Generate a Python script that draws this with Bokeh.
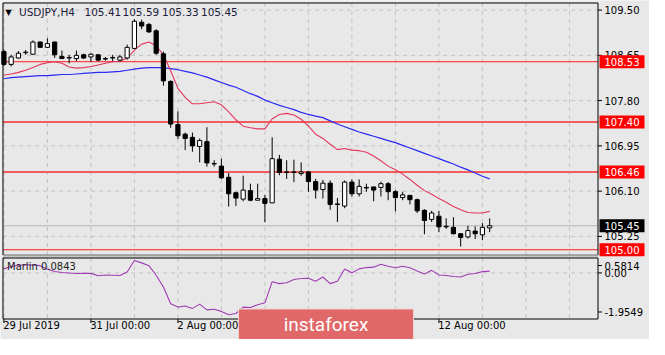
from bokeh.plotting import figure
from bokeh.models import Range1d, ColumnDataSource
from bokeh.core.properties import value
from bokeh.embed import file_html
from bokeh.resources import INLINE

# ---------------- data ----------------
symbol = "USDJPY,H4"
opens = [108.72, 108.48, 108.60, 108.70, 108.67, 108.90, 108.80, 108.90, 108.63, 108.60,
         108.59, 108.66, 108.62, 108.66, 108.58, 108.60, 108.56, 108.60, 108.78, 109.27,
         109.23, 109.11, 108.68, 108.16, 107.35, 107.17, 107.11, 106.94, 107.03, 106.61,
         106.57, 106.36, 106.07, 105.95, 106.11, 105.93, 105.96, 105.88, 106.70, 106.45,
         106.46, 106.43, 106.46, 106.28, 106.13, 106.25, 105.86, 105.82, 106.27, 106.05,
         106.17, 106.18, 106.17, 106.24, 106.09, 105.98, 106.02, 105.94, 105.74, 105.57,
         105.63, 105.44, 105.42, 105.30, 105.24, 105.35, 105.28, 105.41]
highs = [108.76, 108.66, 108.73, 108.75, 108.93, 108.91, 108.97, 108.91, 108.74, 108.66,
         108.74, 108.68, 108.69, 108.67, 108.62, 108.66, 108.66, 108.85, 109.33, 109.32,
         109.26, 109.14, 108.72, 108.18, 107.60, 107.20, 107.20, 107.09, 107.30, 106.68,
         106.71, 106.44, 106.09, 106.39, 106.24, 106.24, 106.03, 107.11, 106.78, 106.68,
         106.69, 106.64, 106.48, 106.33, 106.31, 106.30, 105.97, 106.30, 106.32, 106.32,
         106.24, 106.18, 106.28, 106.27, 106.12, 106.09, 106.03, 105.96, 105.76, 105.73,
         105.73, 105.59, 105.61, 105.31, 105.45, 105.44, 105.50, 105.59]
lows = [108.45, 108.44, 108.59, 108.66, 108.66, 108.79, 108.79, 108.60, 108.58, 108.50,
        108.54, 108.58, 108.53, 108.55, 108.55, 108.54, 108.53, 108.57, 108.77, 109.14,
        109.07, 108.66, 108.08, 107.29, 107.08, 106.87, 106.84, 106.64, 106.56, 106.56,
        106.33, 105.81, 105.82, 105.91, 105.91, 105.93, 105.52, 105.88, 106.40, 106.33,
        106.27, 106.39, 106.09, 105.96, 105.96, 105.75, 105.52, 105.78, 106.00, 106.00,
        106.09, 105.91, 106.00, 105.93, 105.72, 105.93, 105.85, 105.69, 105.29, 105.52,
        105.33, 105.39, 105.29, 105.06, 105.21, 105.20, 105.18, 105.33]
closes = [108.48, 108.62, 108.69, 108.71, 108.90, 108.80, 108.87, 108.66, 108.59, 108.61,
          108.65, 108.60, 108.67, 108.56, 108.59, 108.61, 108.62, 108.80, 109.29, 109.20,
          109.09, 108.69, 108.17, 107.36, 107.14, 107.09, 106.95, 107.05, 106.63, 106.62,
          106.35, 106.05, 105.97, 106.12, 105.93, 105.96, 105.87, 106.71, 106.45, 106.46,
          106.45, 106.46, 106.28, 106.12, 106.25, 105.85, 105.85, 106.27, 106.05, 106.19,
          106.16, 106.12, 106.24, 106.09, 105.98, 106.03, 105.94, 105.73, 105.55, 105.69,
          105.43, 105.43, 105.30, 105.23, 105.36, 105.30, 105.42, 105.45]
ma_fast = [108.28, 108.30, 108.33, 108.37, 108.42, 108.48, 108.51, 108.53, 108.50, 108.43,
           108.41, 108.42, 108.44, 108.47, 108.50, 108.53, 108.54, 108.60, 108.75, 108.86,
           108.90, 108.83, 108.66, 108.36, 108.03, 107.86, 107.74, 107.74, 107.76, 107.78,
           107.72, 107.59, 107.44, 107.32, 107.29, 107.27, 107.27, 107.46, 107.54, 107.56,
           107.53, 107.45, 107.32, 107.17, 107.09, 106.98, 106.88, 106.90, 106.87, 106.86,
           106.83, 106.76, 106.67, 106.57, 106.50, 106.42, 106.32, 106.21, 106.11, 106.04,
           105.96, 105.89, 105.81, 105.75, 105.70, 105.69, 105.69, 105.72]
ma_slow = [108.21, 108.23, 108.24, 108.25, 108.26, 108.27, 108.27, 108.28, 108.29, 108.29,
           108.30, 108.31, 108.32, 108.33, 108.33, 108.34, 108.35, 108.37, 108.39, 108.41,
           108.42, 108.42, 108.42, 108.40, 108.38, 108.35, 108.32, 108.28, 108.24, 108.19,
           108.14, 108.09, 108.05, 107.99, 107.93, 107.88, 107.81, 107.76, 107.71, 107.67,
           107.63, 107.58, 107.54, 107.51, 107.48, 107.42, 107.36, 107.31, 107.26, 107.21,
           107.17, 107.13, 107.09, 107.05, 107.01, 106.96, 106.91, 106.86, 106.81, 106.76,
           106.71, 106.66, 106.61, 106.55, 106.50, 106.44, 106.38, 106.33]
marlin = [0.19, 0.30, 0.36, 0.38, 0.37, 0.34, 0.17, 0.07, 0.02, 0.00,
          -0.03, -0.02, -0.02, -0.13, -0.10, -0.11, -0.12, 0.04, 0.5814, 0.47,
          0.34, -0.11, -0.66, -1.44, -1.60, -1.55, -1.66, -1.46, -1.73, -1.70,
          -1.80, -1.9549, -1.90, -1.60, -1.62, -1.49, -1.40, -0.41, -0.50, -0.46,
          -0.31, -0.26, -0.25, -0.39, -0.19, -0.50, -0.39, 0.18, 0.01, 0.19,
          0.25, 0.27, 0.41, 0.31, 0.24, 0.31, 0.24, 0.09, -0.05, 0.12,
          -0.10, -0.12, -0.17, -0.19, -0.06, -0.03, 0.06, 0.0843]
levels = [108.53, 107.40, 106.46, 105.00]
price_ticks = [109.50, 108.65, 107.80, 106.95, 106.10, 105.25]
marlin_ticks = [0.5814, 0.0, -1.9549]
marlin_tick_labels = ["0.5814", "0.00", "-1.9549"]
date_ticks = [0, 12, 24, 36, 48, 60]
date_labels = ["29 Jul 2019", "31 Jul 00:00", "2 Aug 00:00", "6 Aug 00:00", "8 Aug 00:00", "12 Aug 00:00"]
grid_step = 6
indicator_name = "Marlin"
logo_text = "instaforex"

# ---------------- layout (canvas pixels) ----------------
W, H = 649, 339
BAR_PX, BAR0_PX = 7.25, 3.42          # bar spacing and position of bar 0
PRICE_PX, PRICE_TOP = 53.26, 109.6796  # px per price unit, price at canvas top
IND_PX, IND_REF_V, IND_REF_PX = 1 / 0.046795, 0.5814, 260.0
L, R = 2.5, 597.5
MAIN_T, MAIN_B = 2.5, 254.5
SEP_T, SEP_B = 255.0, 257.0
IND_T, IND_B = 257.5, 318.5
TITLE_X = [18.5, 84.0, 122.0, 161.5, 200.5]

FONT = "DejaVu Sans"
BG = "#e8e8e8"
GRID = "#c2c2c2"

X_START = -BAR0_PX / BAR_PX
X_END = (W - BAR0_PX) / BAR_PX
Y_START = PRICE_TOP - H / PRICE_PX
IND_START = IND_REF_V - (H - IND_REF_PX) / IND_PX
IND_END = IND_REF_V + IND_REF_PX / IND_PX


def gx(px):
    return (px - BAR0_PX) / BAR_PX


def gy(py):
    return PRICE_TOP - py / PRICE_PX


def iy_to_px(v):
    return IND_REF_PX - (v - IND_REF_V) * IND_PX


p = figure(width=W, height=H, x_range=Range1d(X_START, X_END), y_range=Range1d(Y_START, PRICE_TOP),
           x_axis_location=None, y_axis_location=None,
           output_backend="svg", toolbar_location=None,
           min_border=0, min_border_left=0, min_border_right=0, min_border_top=0, min_border_bottom=0)
p.extra_y_ranges = {"ind": Range1d(IND_START, IND_END)}
p.background_fill_color = BG
p.border_fill_color = BG
p.outline_line_color = None
p.grid.visible = False


def txt(size="10px", color="black", font=FONT):
    return dict(text_font=value(font), text_font_size=value(size), text_color=color)


# ---- grid ----
gxs = list(range(0, int(gx(R)) + 1, grid_step))
p.segment(x0=gxs, y0=[gy(MAIN_T)] * len(gxs), x1=gxs, y1=[gy(MAIN_B)] * len(gxs),
          line_color=GRID, line_dash="4 4", line_width=1)
p.segment(x0=gxs, y0=[gy(IND_T)] * len(gxs), x1=gxs, y1=[gy(IND_B)] * len(gxs),
          line_color=GRID, line_dash="4 4", line_width=1)
p.segment(x0=[gx(L)] * len(price_ticks), y0=price_ticks, x1=[gx(R)] * len(price_ticks), y1=price_ticks,
          line_color=GRID, line_dash="4 4", line_width=1)
p.segment(x0=[gx(L)], y0=[0.0], x1=[gx(R)], y1=[0.0], y_range_name="ind",
          line_color=GRID, line_dash="4 4", line_width=1)

# ---- level lines ----
level_colors = ["#ff1e1e", "#f25c5c", "#f25c5c", "#ff1e1e"]
level_widths = [1, 2, 2, 1]
p.segment(x0=[gx(L)] * len(levels), y0=levels, x1=[gx(R)] * len(levels), y1=levels,
          line_color=level_colors, line_width=level_widths)
p.segment(x0=[gx(L)], y0=[closes[-1]], x1=[gx(R)], y1=[closes[-1]], line_color="#b4b4b4", line_width=1)

# ---- moving averages ----
xs = list(range(len(opens)))
p.line(xs, ma_slow, line_color="#2a2af5", line_width=1.2)
p.line(xs, ma_fast, line_color="#e2375c", line_width=1.1)

# ---- candles ----
bull = [c >= o for o, c in zip(opens, closes)]
src = ColumnDataSource(dict(
    x=xs, high=highs, low=lows,
    top=[max(o, c) for o, c in zip(opens, closes)],
    bottom=[min(o, c) for o, c in zip(opens, closes)],
    fill=["white" if b else "black" for b in bull],
))
p.segment("x", "high", "x", "low", source=src, line_color="black", line_width=1)
p.vbar(x="x", width=0.58, top="top", bottom="bottom", source=src,
       fill_color="fill", line_color="black", line_width=1)

# ---- indicator ----
p.line(xs, marlin, y_range_name="ind", line_color="#a03cb4", line_width=1.1)

# ---- frames and separator ----
p.quad(left=[gx(L)], right=[gx(R)], top=[gy(SEP_T)], bottom=[gy(SEP_B)],
       fill_color="#c8c8c8", line_color=None)
p.segment(x0=[gx(L), gx(L), gx(R)], y0=[gy(MAIN_T), gy(MAIN_T), gy(MAIN_T)],
          x1=[gx(R), gx(L), gx(R)], y1=[gy(MAIN_T), gy(MAIN_B), gy(MAIN_B)],
          line_color="black", line_width=1)
p.segment(x0=[gx(L)], y0=[gy(MAIN_B)], x1=[gx(R)], y1=[gy(MAIN_B)], line_color="#6a6a6a", line_width=1)
p.quad(left=[gx(L)], right=[gx(R)], top=[gy(IND_T)], bottom=[gy(IND_B)],
       fill_color=None, line_color="black", line_width=1)

# ---- right price axis ----
p.segment(x0=[gx(R)] * len(price_ticks), y0=price_ticks, x1=[gx(R + 4)] * len(price_ticks), y1=price_ticks,
          line_color="black", line_width=1)
p.text(x=[gx(R + 6.5)] * len(price_ticks), y=price_ticks, text=["%.2f" % t for t in price_ticks],
       text_align="left", text_baseline="middle", **txt())

# indicator axis labels (clamped inside the pane like the terminal does)
ind_label_px = [min(max(iy_to_px(v), IND_T + 7.5), IND_B - 7) for v in marlin_ticks]
ind_label_y = [gy(v) for v in ind_label_px]
p.segment(x0=[gx(R)] * 3, y0=ind_label_y, x1=[gx(R + 4)] * 3, y1=ind_label_y, line_color="black", line_width=1)
p.text(x=[gx(R + 6.5)] * 3, y=ind_label_y, text=marlin_tick_labels,
       text_align="left", text_baseline="middle", **txt())

# ---- price boxes on the axis ----
half = 6.5 / PRICE_PX
box_levels = levels + [closes[-1]]
box_colors = ["#ff0000"] * len(levels) + ["black"]
p.quad(left=[gx(R + 1.5)] * len(box_levels), right=[gx(R + 46.5)] * len(box_levels),
       top=[v + half for v in box_levels], bottom=[v - half for v in box_levels],
       fill_color=box_colors, line_color=None)
p.text(x=[gx(R + 6.5)] * len(box_levels), y=box_levels, text=["%.2f" % v for v in box_levels],
       text_align="left", text_baseline="middle", **txt(color="white"))

# ---- bottom time axis ----
p.segment(x0=date_ticks, y0=[gy(IND_B)] * len(date_ticks), x1=date_ticks, y1=[gy(IND_B + 4)] * len(date_ticks),
          line_color="black", line_width=1)
p.text(x=[t - 0.1 for t in date_ticks], y=[gy(325)] * len(date_ticks), text=date_labels,
       text_align="left", text_baseline="middle", **txt())

# ---- title ----
p.text(x=[gx(5)], y=[gy(11.5)], text=["\u25bc"], text_align="left", text_baseline="middle",
       **txt(size="8px"))
title_tokens = [symbol] + ["%.2f" % v for v in (opens[-1], highs[-1], lows[-1], closes[-1])]
p.text(x=[gx(v) for v in TITLE_X], y=[gy(11.5)] * len(title_tokens), text=title_tokens,
       text_align="left", text_baseline="middle", **txt(size="10.5px", color="#1e1e3c"))

# ---- indicator caption ----
p.text(x=[gx(6.5)], y=[gy(266)], text=["%s %.4f" % (indicator_name, marlin[-1])],
       text_align="left", text_baseline="middle", **txt(color="#222222"))

# ---- logo ----
p.quad(left=[gx(238)], right=[gx(413)], top=[gy(308.5)], bottom=[gy(345)],
       fill_color="#e06868", line_color="#f3d0d0", line_width=1)
p.text(x=[gx(325.5)], y=[gy(324)], text=[logo_text], text_align="center", text_baseline="middle",
       **txt(size="19px", color="white", font="Roboto"))

open("out.html", "w").write(file_html(p, INLINE))
